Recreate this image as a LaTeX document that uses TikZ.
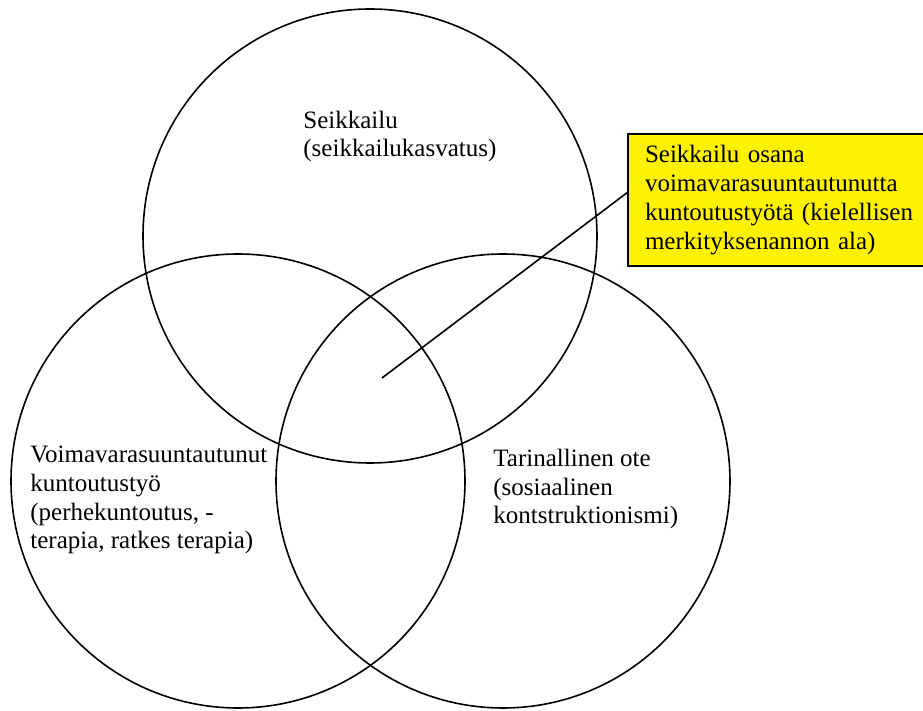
\documentclass[tikz,border=0pt]{standalone}
\usepackage{fontspec}
\setmainfont{Liberation Serif}
\usetikzlibrary{positioning}

\tikzset{
  ympyra/.style={circle, draw, line width=.8pt, minimum size=227pt, inner sep=0pt},
  teksti/.style={anchor=base west, align=left, inner sep=0pt,
    font=\fontsize{12.5pt}{14.4pt}\selectfont},
  laatikko/.style={draw, line width=1.2pt, fill=yellow, anchor=north west, outer sep=0pt,
    text width=140pt, inner xsep=8.5pt, inner ysep=0pt, minimum height=66pt, align=left,
    font=\fontsize{12.5pt}{14.4pt}\selectfont}
}

\begin{document}
\begin{tikzpicture}[x=.5pt, y=-.5pt]
  \useasboundingbox (0,0) rectangle (923,711);
  \clip (0,0) rectangle (923,711);

  \node[ympyra] (seik) at (370,236) {};
  \node[ympyra] (voima) at (238,481) {};
  \node[ympyra] (tarina) at (503,481) {};

  % base = baseline of the last line
  \node[teksti] (seikteksti) at (303,157) {Seikkailu\\(seikkailukasvatus)};
  \node[teksti] (voimateksti) at (30,549) {Voimavarasuuntautunut\\kuntoutustyö\\(perhekuntoutus, -\\terapia, ratkes terapia)};
  \node[teksti] (tarinateksti) at (493,524) {Tarinallinen ote\\(sosiaalinen\\kontstruktionismi)};

  \node[laatikko] (osana) at (628,134) {Seikkailu osana\\voimavarasuuntautunutta\\kuntoutustyötä (kielellisen\\merkityksenannon ala)};

  \coordinate (keski) at (382,378);
  \draw[line width=.8pt] (keski) -- ([yshift=4pt]osana.west);
\end{tikzpicture}
\end{document}
